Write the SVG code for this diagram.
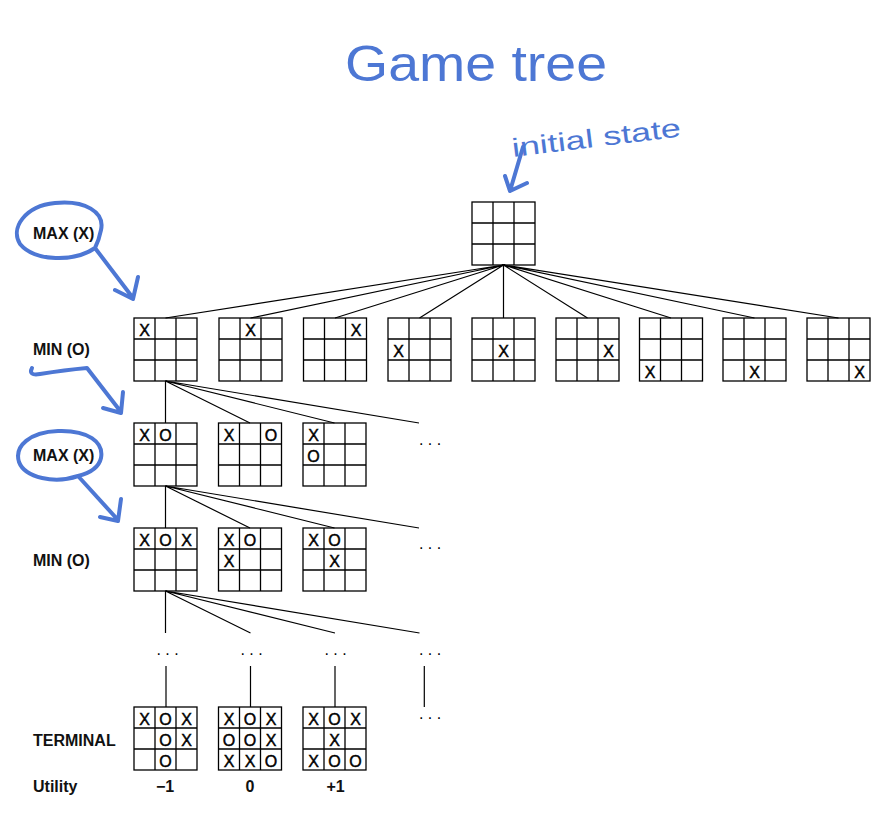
<svg xmlns="http://www.w3.org/2000/svg" xmlns:xlink="http://www.w3.org/1999/xlink" width="883" height="830" viewBox="0 0 883 830">
<style>
.g{fill:none;stroke:#000;stroke-width:1.3}
.m{font-family:"Liberation Sans",Arial,sans-serif;font-size:16px;fill:#000;stroke:#000;stroke-width:0.45;text-anchor:middle}
.lbl{font-family:"Liberation Sans",Arial,sans-serif;font-size:16px;font-weight:bold;fill:#111}
.u{font-family:"Liberation Sans",Arial,sans-serif;font-size:16px;font-weight:bold;fill:#111;text-anchor:middle}
.dots{font-family:"Liberation Sans",Arial,sans-serif;font-size:16px;fill:#000;text-anchor:middle}
.c{stroke:#000;stroke-width:1.2;fill:none}
.h{fill:none;stroke:#4d77d4;stroke-width:4;stroke-linecap:round;stroke-linejoin:round}
.ht{fill:#4d77d4;font-family:"Liberation Sans",Arial,sans-serif}
</style>
<defs>
<g id="grid">
<rect class="g" x="0" y="0" width="63" height="63"/>
<path class="g" d="M21 0V63M42 0V63M0 21H63M0 42H63"/>
</g>
</defs>
<rect width="883" height="830" fill="#fff"/>

<g id="annotations">
<text class="ht" x="345" y="81" font-size="50" textLength="262" lengthAdjust="spacingAndGlyphs">Game tree</text>
<text class="ht" x="513" y="157" font-size="26" textLength="170" lengthAdjust="spacingAndGlyphs" transform="rotate(-7 513 157)">initial state</text>
<path class="h" d="M523 147L510 191M505 176L510 191L527 183"/>
<path class="h" d="M95 248C75 262 35 262 20 244C10 228 25 206 55 203C85 200 105 212 101 230C99 240 96 246 95 248L133 298M115 290L133 299L138 277"/>
<path class="h" d="M32 368Q28 376 40 374Q65 370 87 368L121 412M103 408L121 413L123 392"/>
<path class="h" d="M78 476C55 484 25 478 19 462C14 446 30 432 58 431C88 430 104 442 101 458C99 467 90 473 78 476L118 520M100 517L118 521L121 499"/>
</g>

<g id="labels">
<text class="lbl" x="33" y="239">MAX (X)</text>
<text class="lbl" x="33" y="355">MIN (O)</text>
<text class="lbl" x="33" y="460.5">MAX (X)</text>
<text class="lbl" x="33" y="566">MIN (O)</text>
<text class="lbl" x="33" y="745.5">TERMINAL</text>
<text class="lbl" x="33" y="792">Utility</text>
</g>

<g id="connectors">
<path class="c" d="M503.5 265L165.5 318M503.5 265L250.5 318M503.5 265L335 318M503.5 265L419.5 318M503.5 265L503.5 318M503.5 265L587.5 318M503.5 265L671 318M503.5 265L754.5 318M503.5 265L838.5 318"/>
<path class="c" d="M165.5 381L165.5 423M165.5 381L250 423M165.5 381L334.5 423M165.5 381L419 423"/>
<path class="c" d="M165.5 486L165.5 528M165.5 486L250 528M165.5 486L334.5 528M165.5 486L419 528"/>
<path class="c" d="M165.5 591L165.5 633M165.5 591L250.5 633M165.5 591L335 633M165.5 591L419.5 633"/>
<path class="c" d="M166 666V707M250.5 666V707M335 666V707M424.3 666V707"/>
</g>

<g id="ellipses">
<text class="dots" x="430" y="445">. . .</text>
<text class="dots" x="430" y="549">. . .</text>
<text class="dots" x="167.5" y="655">. . .</text>
<text class="dots" x="251.5" y="655">. . .</text>
<text class="dots" x="335.5" y="655">. . .</text>
<text class="dots" x="430" y="655">. . .</text>
<text class="dots" x="430" y="719">. . .</text>
</g>

<g id="root"><use xlink:href="#grid" x="472" y="202"/></g>

<g id="r1n1"><use xlink:href="#grid" x="134" y="318"/><text class="m" x="144.5" y="335.5">X</text></g>
<g id="r1n2"><use xlink:href="#grid" x="219" y="318"/><text class="m" x="250.5" y="335.5">X</text></g>
<g id="r1n3"><use xlink:href="#grid" x="303.5" y="318"/><text class="m" x="356" y="335.5">X</text></g>
<g id="r1n4"><use xlink:href="#grid" x="388" y="318"/><text class="m" x="398.5" y="356.5">X</text></g>
<g id="r1n5"><use xlink:href="#grid" x="472" y="318"/><text class="m" x="503.5" y="356.5">X</text></g>
<g id="r1n6"><use xlink:href="#grid" x="556" y="318"/><text class="m" x="608.5" y="356.5">X</text></g>
<g id="r1n7"><use xlink:href="#grid" x="639.5" y="318"/><text class="m" x="650" y="377.5">X</text></g>
<g id="r1n8"><use xlink:href="#grid" x="723" y="318"/><text class="m" x="754.5" y="377.5">X</text></g>
<g id="r1n9"><use xlink:href="#grid" x="807" y="318"/><text class="m" x="859.5" y="377.5">X</text></g>

<g id="r2n1"><use xlink:href="#grid" x="134" y="423"/><text class="m" x="144.5" y="440.5">X</text><text class="m" x="165.5" y="440.5">O</text></g>
<g id="r2n2"><use xlink:href="#grid" x="218.5" y="423"/><text class="m" x="229" y="440.5">X</text><text class="m" x="271" y="440.5">O</text></g>
<g id="r2n3"><use xlink:href="#grid" x="303" y="423"/><text class="m" x="313.5" y="440.5">X</text><text class="m" x="313.5" y="461.5">O</text></g>

<g id="r3n1"><use xlink:href="#grid" x="134" y="528"/><text class="m" x="144.5" y="545.5">X</text><text class="m" x="165.5" y="545.5">O</text><text class="m" x="186.5" y="545.5">X</text></g>
<g id="r3n2"><use xlink:href="#grid" x="218.5" y="528"/><text class="m" x="229" y="545.5">X</text><text class="m" x="250" y="545.5">O</text><text class="m" x="229" y="566.5">X</text></g>
<g id="r3n3"><use xlink:href="#grid" x="303" y="528"/><text class="m" x="313.5" y="545.5">X</text><text class="m" x="334.5" y="545.5">O</text><text class="m" x="334.5" y="566.5">X</text></g>

<g id="t1"><use xlink:href="#grid" x="134" y="707"/>
<text class="m" x="144.5" y="724.5">X</text><text class="m" x="165.5" y="724.5">O</text><text class="m" x="186.5" y="724.5">X</text>
<text class="m" x="165.5" y="745.5">O</text><text class="m" x="186.5" y="745.5">X</text>
<text class="m" x="165.5" y="766.5">O</text></g>
<g id="t2"><use xlink:href="#grid" x="218.5" y="707"/>
<text class="m" x="229" y="724.5">X</text><text class="m" x="250" y="724.5">O</text><text class="m" x="271" y="724.5">X</text>
<text class="m" x="229" y="745.5">O</text><text class="m" x="250" y="745.5">O</text><text class="m" x="271" y="745.5">X</text>
<text class="m" x="229" y="766.5">X</text><text class="m" x="250" y="766.5">X</text><text class="m" x="271" y="766.5">O</text></g>
<g id="t3"><use xlink:href="#grid" x="303" y="707"/>
<text class="m" x="313.5" y="724.5">X</text><text class="m" x="334.5" y="724.5">O</text><text class="m" x="355.5" y="724.5">X</text>
<text class="m" x="334.5" y="745.5">X</text>
<text class="m" x="313.5" y="766.5">X</text><text class="m" x="334.5" y="766.5">O</text><text class="m" x="355.5" y="766.5">O</text></g>

<g id="utility">
<text class="u" x="165" y="792">−1</text>
<text class="u" x="250" y="792">0</text>
<text class="u" x="335.5" y="792">+1</text>
</g>
</svg>
